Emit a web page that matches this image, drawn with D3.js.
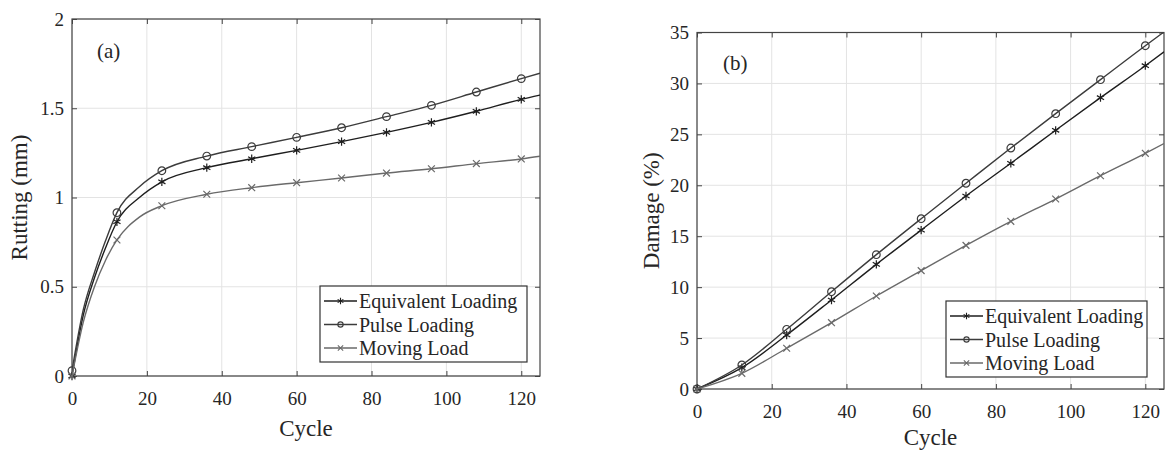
<!DOCTYPE html>
<html>
<head>
<meta charset="utf-8">
<script src="https://cdn.jsdelivr.net/npm/d3@7"></script>
<style>
  body { margin: 0; background: #fff; }
</style>
</head>
<body>
<svg width="1165" height="452"></svg>
<script>
  // panel (a) - rutting
  const cyclesA   = [0, 3, 6, 9, 12, 18, 24, 36, 48, 60, 72, 84, 96, 108, 120, 125];
  const equivRut  = [0, 0.34, 0.55, 0.72, 0.864, 1.00, 1.088, 1.167, 1.217, 1.264, 1.313, 1.365, 1.421, 1.483, 1.550, 1.574];
  const pulseRut  = [0.03, 0.37, 0.58, 0.76, 0.915, 1.06, 1.15, 1.232, 1.285, 1.337, 1.391, 1.453, 1.516, 1.591, 1.666, 1.696];
  const movingRut = [0, 0.30, 0.50, 0.65, 0.762, 0.89, 0.954, 1.018, 1.055, 1.083, 1.109, 1.137, 1.161, 1.19, 1.216, 1.231];

  // panel (b) - damage
  const cyclesB   = [0, 12, 24, 36, 48, 60, 72, 84, 96, 108, 120, 125];
  const equivDmg  = [0, 2.09, 5.3, 8.74, 12.24, 15.6, 18.95, 22.16, 25.4, 28.6, 31.74, 33.1];
  const pulseDmg  = [0, 2.36, 5.86, 9.55, 13.19, 16.72, 20.2, 23.66, 27.03, 30.37, 33.7, 35.05];
  const movingDmg = [0, 1.54, 4.0, 6.51, 9.13, 11.62, 14.1, 16.46, 18.65, 20.94, 23.14, 24.1];

  const seriesNames = ["Equivalent Loading", "Pulse Loading", "Moving Load"];
  const xTicks  = [0, 20, 40, 60, 80, 100, 120];
  const yTicksA = [0, 0.5, 1, 1.5, 2];
  const yTicksB = [0, 5, 10, 15, 20, 25, 30, 35];

  const FONT = "'Liberation Serif', 'DejaVu Serif', 'Times New Roman', serif";
  const svg = d3.select("svg").style("font-family", FONT);
  svg.append("rect").attr("width", 1165).attr("height", 452).attr("fill", "#fff");

  const styles = [
    { color: "#1e1e1e", sym: d3.symbolAsterisk, size: 48, legSize: 30 },
    { color: "#3c3c3c", sym: d3.symbolCircle,   size: 46, legSize: 22 },
    { color: "#6a6a6a", sym: d3.symbolTimes,    size: 32, legSize: 20 }
  ];

  const txt = (sel) => sel.style("font-family", FONT).attr("fill", "#262626");

  const drawPanel = (p) => {
    const x = d3.scaleLinear().domain([0, 125]).range([p.left, p.right]);
    const y = d3.scaleLinear().domain(p.yDomain).range([p.bottom, p.top]);
    const g = svg.append("g");
    const id = "clip-" + p.name;

    g.append("clipPath").attr("id", id).append("rect")
      .attr("x", p.left).attr("y", p.top)
      .attr("width", p.right - p.left).attr("height", p.bottom - p.top);

    // grid
    g.selectAll(".gx").data(xTicks).enter().append("line")
      .attr("x1", d => x(d)).attr("x2", d => x(d))
      .attr("y1", p.top).attr("y2", p.bottom)
      .attr("stroke", "#e3e3e3");
    g.selectAll(".gy").data(p.yTicks).enter().append("line")
      .attr("x1", p.left).attr("x2", p.right)
      .attr("y1", d => y(d)).attr("y2", d => y(d))
      .attr("stroke", "#e3e3e3");

    // axes with inward ticks, all four sides
    const ax = (gen, tx, ty) => g.append("g").attr("transform", `translate(${tx},${ty})`).call(gen);
    const style = sel => {
      sel.attr("font-family", null).attr("font-size", null);
      sel.select(".domain").remove();
      sel.selectAll(".tick line").attr("stroke", "#444");
      sel.selectAll(".tick text").attr("font-size", 19).call(txt);
    };
    const fmt = d3.format("~g");
    ax(d3.axisBottom(x).tickValues(xTicks).tickSize(-5).tickPadding(16).tickFormat(fmt), 0, p.bottom).call(style);
    ax(d3.axisTop(x).tickValues(xTicks).tickSize(-5).tickFormat(""), 0, p.top).call(style);
    ax(d3.axisLeft(y).tickValues(p.yTicks).tickSize(-5).tickPadding(8).tickFormat(fmt), p.left, 0).call(style);
    ax(d3.axisRight(y).tickValues(p.yTicks).tickSize(-5).tickFormat(""), p.right, 0).call(style);

    g.append("rect")
      .attr("x", p.left).attr("y", p.top)
      .attr("width", p.right - p.left).attr("height", p.bottom - p.top)
      .attr("fill", "none").attr("stroke", "#444").attr("stroke-width", 1.2);

    // series
    const line = d3.line().x(d => x(d[0])).y(d => y(d[1])).curve(d3.curveMonotoneX);
    p.series.forEach((vals, i) => {
      const pts = p.cycles.map((c, j) => [c, vals[j]]);
      const s = styles[i];
      g.append("path").datum(pts)
        .attr("clip-path", `url(#${id})`)
        .attr("d", line)
        .attr("fill", "none").attr("stroke", s.color).attr("stroke-width", 1.4);
      g.selectAll(null).data(pts.filter(d => d[0] % 12 === 0)).enter().append("path")
        .attr("transform", d => `translate(${x(d[0])},${y(d[1])})`)
        .attr("d", d3.symbol().type(s.sym).size(s.size))
        .attr("fill", "none").attr("stroke", s.color).attr("stroke-width", 1.2);
    });

    // panel label
    g.append("text").attr("x", p.labelX).attr("y", p.labelY)
      .attr("font-size", 21).text(p.label).call(txt);

    // axis titles
    g.append("text")
      .attr("x", (p.left + p.right) / 2).attr("y", p.bottom + p.xTitleDy)
      .attr("text-anchor", "middle").attr("font-size", 23).text("Cycle").call(txt);
    g.append("text")
      .attr("transform", `translate(${p.yTitleX},${(p.top + p.bottom) / 2}) rotate(-90)`)
      .attr("text-anchor", "middle").attr("font-size", 23).text(p.yTitle).call(txt);

    // legend
    const lg = g.append("g").attr("transform", `translate(${p.legX},${p.legY})`);
    lg.append("rect").attr("width", p.legW).attr("height", 76)
      .attr("fill", "#fff").attr("stroke", "#333").attr("stroke-width", 1.2);
    seriesNames.forEach((name, i) => {
      const s = styles[i];
      const cy = 15 + i * 23.5;
      lg.append("line").attr("x1", 4).attr("x2", 37).attr("y1", cy).attr("y2", cy)
        .attr("stroke", s.color).attr("stroke-width", 1.4);
      lg.append("path").attr("transform", `translate(20.5,${cy})`)
        .attr("d", d3.symbol().type(s.sym).size(s.legSize))
        .attr("fill", "none").attr("stroke", s.color).attr("stroke-width", 1.1);
      lg.append("text").attr("x", 39).attr("y", cy + 7)
        .attr("font-size", 20).text(name).call(txt);
    });
  };

  drawPanel({
    name: "a", left: 72, right: 540, top: 19, bottom: 376,
    yDomain: [0, 2], yTicks: yTicksA, cycles: cyclesA,
    series: [equivRut, pulseRut, movingRut],
    label: "(a)", labelX: 97, labelY: 58,
    yTitle: "Rutting (mm)", yTitleX: 27, xTitleDy: 60,
    legX: 320, legY: 286, legW: 207
  });

  drawPanel({
    name: "b", left: 697, right: 1164, top: 32.5, bottom: 389,
    yDomain: [0, 35], yTicks: yTicksB, cycles: cyclesB,
    series: [equivDmg, pulseDmg, movingDmg],
    label: "(b)", labelX: 723, labelY: 70,
    yTitle: "Damage (%)", yTitleX: 659, xTitleDy: 56,
    legX: 946, legY: 301, legW: 201
  });
</script>
</body>
</html>
